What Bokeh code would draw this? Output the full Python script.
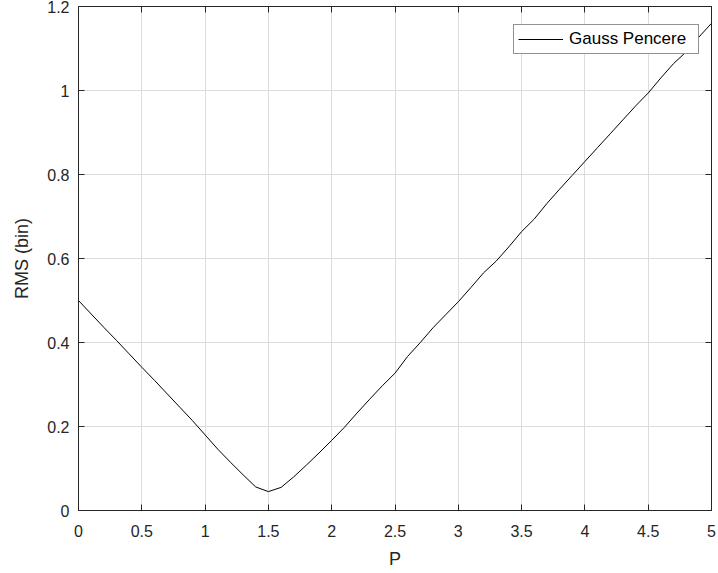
from bokeh.plotting import figure
from bokeh.models import LinearAxis, Range1d, Legend, LegendItem, FixedTicker
from bokeh.embed import file_html
from bokeh.resources import INLINE

p_values = [0.0, 0.1, 0.2, 0.3, 0.4, 0.5, 0.6, 0.7, 0.8, 0.9,
            1.0, 1.1, 1.2, 1.3, 1.4, 1.5, 1.6, 1.7, 1.8, 1.9,
            2.0, 2.1, 2.2, 2.3, 2.4, 2.5, 2.6, 2.7, 2.8, 2.9,
            3.0, 3.1, 3.2, 3.3, 3.4, 3.5, 3.6, 3.7, 3.8, 3.9,
            4.0, 4.1, 4.2, 4.3, 4.4, 4.5, 4.6, 4.7, 4.8, 4.9, 5.0]
rms_values = [0.500, 0.468, 0.436, 0.405, 0.373, 0.341, 0.310, 0.278, 0.246, 0.214,
              0.180, 0.146, 0.115, 0.085, 0.056, 0.045, 0.055, 0.080, 0.108, 0.137,
              0.167, 0.198, 0.232, 0.265, 0.297, 0.327, 0.367, 0.400, 0.435, 0.466,
              0.497, 0.531, 0.566, 0.594, 0.628, 0.664, 0.694, 0.731, 0.765, 0.798,
              0.831, 0.864, 0.897, 0.930, 0.963, 0.994, 1.030, 1.064, 1.092, 1.127, 1.160]
x_ticks = [0, 0.5, 1, 1.5, 2, 2.5, 3, 3.5, 4, 4.5, 5]
y_ticks = [0, 0.2, 0.4, 0.6, 0.8, 1, 1.2]
series_name = "Gauss Pencere"
x_label = "P"
y_label = "RMS (bin)"

FONT = "Liberation Sans"
AX = "#262626"

p = figure(width=718, height=573, output_backend="svg", toolbar_location=None,
           x_range=Range1d(0, 5), y_range=Range1d(0, 1.2),
           min_border_left=78, min_border_right=7, min_border_top=6, min_border_bottom=63)
p.outline_line_color = AX
p.outline_line_width = 1
p.background_fill_color = "white"
p.border_fill_color = "white"

line = p.line(p_values, rms_values, line_color="black", line_width=1)

xa = p.xaxis[0]
ya = p.yaxis[0]
xa.ticker = FixedTicker(ticks=x_ticks)
ya.ticker = FixedTicker(ticks=y_ticks)
for ax in (xa, ya):
    ax.axis_line_color = AX
    ax.major_tick_line_color = AX
    ax.major_tick_in = 6
    ax.major_tick_out = 0
    ax.minor_tick_line_color = None
    ax.major_label_text_font = FONT
    ax.major_label_text_font_size = "16px"
    ax.major_label_text_color = AX
    ax.axis_label_text_font = FONT
    ax.axis_label_text_font_size = "18px"
    ax.axis_label_text_font_style = "normal"
    ax.axis_label_text_color = AX
xa.axis_label = x_label
ya.axis_label = y_label
xa.major_label_standoff = 14
ya.major_label_standoff = 9
xa.axis_label_standoff = 9
ya.axis_label_standoff = 12

top = LinearAxis(ticker=FixedTicker(ticks=x_ticks))
right = LinearAxis(ticker=FixedTicker(ticks=y_ticks))
for ax in (top, right):
    ax.axis_line_color = AX
    ax.major_tick_line_color = AX
    ax.major_tick_in = 6
    ax.major_tick_out = 0
    ax.minor_tick_line_color = None
    ax.major_label_text_font_size = "0px"
    ax.major_label_text_color = None
    ax.major_label_standoff = 0
p.add_layout(top, "above")
p.add_layout(right, "right")

p.xgrid.ticker = FixedTicker(ticks=x_ticks)
p.ygrid.ticker = FixedTicker(ticks=y_ticks)
for g in (p.xgrid[0], p.ygrid[0]):
    g.grid_line_color = "#dcdcdc"
    g.grid_line_width = 1

legend = Legend(items=[LegendItem(label=series_name, renderers=[line])],
                location=(435, 456))
legend.label_text_font = FONT
legend.label_text_font_size = "17px"
legend.label_text_color = "black"
legend.glyph_width = 45
legend.glyph_height = 14
legend.label_height = 14
legend.label_width = 125
legend.label_standoff = 6
legend.padding = 4
legend.margin = 0
legend.spacing = 0
legend.border_line_color = AX
legend.border_line_width = 1
legend.background_fill_color = "white"
legend.background_fill_alpha = 1
p.add_layout(legend, "center")

open("out.html", "w").write(file_html(p, INLINE))
